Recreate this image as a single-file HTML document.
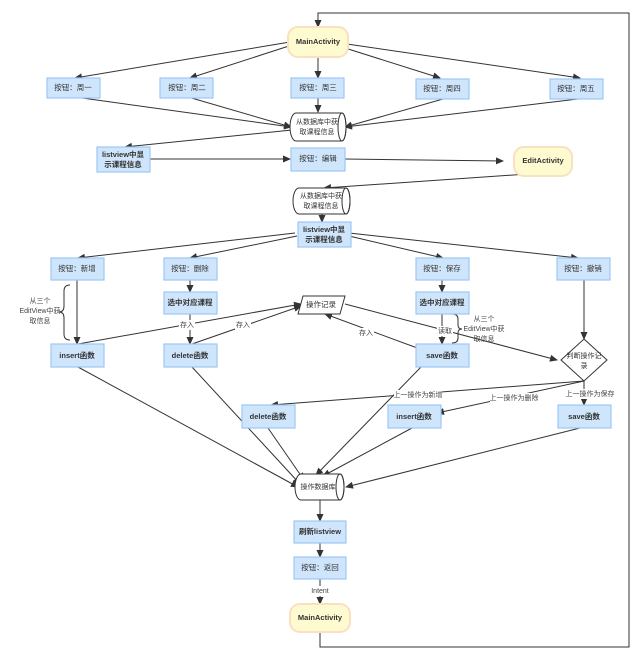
<!DOCTYPE html>
<html><head><meta charset="utf-8"><style>
html,body{margin:0;padding:0;background:#fff;}
svg{display:block;font-family:"Liberation Sans","Noto Sans CJK SC",sans-serif;}
.b{fill:#cfe5fc;stroke:#9cc8f5;stroke-width:1.2}
.y{fill:#fffbd0;stroke:#fbe0c0;stroke-width:2}
.t{font-size:7.5px;fill:#333;text-anchor:middle;dominant-baseline:middle}
.tb{font-size:7.5px;fill:#333;text-anchor:middle;dominant-baseline:middle;font-weight:bold}
.l{stroke:#333;stroke-width:1;fill:none;marker-end:url(#a)}
.n{stroke:#333;stroke-width:1;fill:none}
.lab{font-size:7px;fill:#444;text-anchor:middle;dominant-baseline:middle}
.lb{fill:#fff}
</style></head><body>
<svg width="642" height="660" viewBox="0 0 642 660">
<defs><marker id="a" markerWidth="8" markerHeight="8" refX="7" refY="4" orient="auto" markerUnits="userSpaceOnUse"><path d="M0,0.5 L8,4 L0,7.5 Z" fill="#333"/></marker></defs>

<!-- loop -->
<path class="n" d="M320,632 L320,647 L629,647 L629,13 L318,13 L318,20"/>
<path class="l" d="M318,18 L318,27"/>

<!-- Main -> weekdays -->
<path class="l" d="M290,42 L75,78"/>
<path class="l" d="M292,45 L190,78"/>
<path class="l" d="M318,57 L318,78"/>
<path class="l" d="M345,48 L440,78"/>
<path class="l" d="M347,44 L580,78"/>
<!-- weekdays -> cyl1 -->
<path class="l" d="M75,97 L291,127"/>
<path class="l" d="M188,97 L291,127"/>
<path class="l" d="M318,97 L318,112"/>
<path class="l" d="M443,99 L345,127"/>
<path class="l" d="M578,99 L345,127"/>
<path class="l" d="M292,130 L125,147"/>
<path class="l" d="M150,159 L290,159"/>
<path class="l" d="M345,159 L503,161"/>
<path class="l" d="M542,173 L324,188"/>
<path class="l" d="M322,214 L322,222"/>
<!-- listview2 -> buttons -->
<path class="l" d="M295,233 L78,258"/>
<path class="l" d="M297,236 L190,258"/>
<path class="l" d="M349,236 L443,258"/>
<path class="l" d="M349,233 L578,258"/>
<!-- column flows -->
<path class="l" d="M77,280 L77,344"/>
<path class="l" d="M190,280 L190,292"/>
<path class="l" d="M190,314 L190,344"/>
<path class="l" d="M442,280 L442,292"/>
<path class="l" d="M442,314 L442,344"/>
<path class="l" d="M584,280 L584,339"/>
<!-- to 操作记录 -->
<path class="l" d="M78,344 L301,304"/>
<path class="l" d="M192,344 L301,306"/>
<path class="l" d="M420,349 L325,314"/>
<path class="l" d="M345,304 L557,360"/>
<!-- diamond outputs -->
<path class="l" d="M584,381 L271,405"/>
<path class="l" d="M584,381 L437,413"/>
<path class="l" d="M584,381 L584,405"/>
<!-- to db -->
<path class="l" d="M78,367 L298,487"/>
<path class="l" d="M192,367 L300,484"/>
<path class="l" d="M268,428 L304,480"/>
<path class="l" d="M421,367 L316,475"/>
<path class="l" d="M412,428 L323,476"/>
<path class="l" d="M580,428 L346,487"/>
<path class="l" d="M320,500 L320,521"/>
<path class="l" d="M320,543 L320,557"/>
<path class="l" d="M320,579 L320,604"/>

<!-- braces -->
<path class="n" d="M70,285 Q64,285 64,291 L64,306 Q64,312 59,312 Q64,312 64,318 L64,334 Q64,340 70,340"/>
<path class="n" d="M452,314 Q458,314 458,319 L458,325 Q458,329 462,329 Q458,329 458,333 L458,338 Q458,343 452,343"/>

<!-- labels -->
<text class="lab" x="40" y="301">从三个</text>
<text class="lab" x="40" y="311">EditView中获</text>
<text class="lab" x="40" y="321">取信息</text>
<text class="lab" x="484" y="319">从三个</text>
<text class="lab" x="484" y="329">EditView中获</text>
<text class="lab" x="484" y="339">取信息</text>
<rect class="lb" x="179" y="320" width="16" height="10"/><text class="lab" x="187" y="325">存入</text>
<rect class="lb" x="235" y="320" width="16" height="10"/><text class="lab" x="243" y="325">存入</text>
<rect class="lb" x="358" y="328" width="16" height="10"/><text class="lab" x="366" y="333">存入</text>
<rect class="lb" x="437" y="326" width="16" height="10"/><text class="lab" x="445" y="331">读取</text>
<rect class="lb" x="394" y="390" width="48" height="10"/><text class="lab" x="418" y="395">上一操作为新增</text>
<rect class="lb" x="490" y="393" width="48" height="10"/><text class="lab" x="514" y="398">上一操作为删除</text>
<rect class="lb" x="566" y="389" width="48" height="10"/><text class="lab" x="590" y="394">上一操作为保存</text>
<rect class="lb" x="309" y="586" width="22" height="10"/><text class="lab" x="320" y="591">Intent</text>

<!-- nodes -->
<rect class="y" x="288" y="27" width="60" height="30" rx="10"/><text class="tb" x="318" y="42">MainActivity</text>
<rect class="b" x="47" y="78" width="53" height="20"/><text class="t" x="73" y="88">按钮：周一</text>
<rect class="b" x="160" y="78" width="53" height="20"/><text class="t" x="187" y="88">按钮：周二</text>
<rect class="b" x="291" y="78" width="53" height="20"/><text class="t" x="318" y="88">按钮：周三</text>
<rect class="b" x="416" y="79" width="53" height="20"/><text class="t" x="442" y="89">按钮：周四</text>
<rect class="b" x="550" y="79" width="53" height="20"/><text class="t" x="576" y="89">按钮：周五</text>

<path d="M296,113 L342,113 A4,14 0 0 1 342,141 L296,141 A6,14 0 0 1 296,113 Z" fill="#fff" stroke="#333"/>
<ellipse cx="342" cy="127" rx="4" ry="14" fill="none" stroke="#333"/>
<text class="t" x="317" y="122" style="font-size:7px">从数据库中获</text><text class="t" x="317" y="132" style="font-size:7px">取课程信息</text>

<rect class="b" x="97" y="147" width="53" height="25"/><text class="tb" x="123" y="155">listview中显</text><text class="tb" x="123" y="165">示课程信息</text>
<rect class="b" x="291" y="148" width="54" height="23"/><text class="t" x="318" y="159">按钮：编辑</text>
<rect class="y" x="514" y="147" width="58" height="29" rx="10"/><text class="tb" x="543" y="161">EditActivity</text>

<path d="M299,188 L346,188 A4,13 0 0 1 346,214 L299,214 A6,13 0 0 1 299,188 Z" fill="#fff" stroke="#333"/>
<ellipse cx="346" cy="201" rx="4" ry="13" fill="none" stroke="#333"/>
<text class="t" x="321" y="196" style="font-size:7px">从数据库中获</text><text class="t" x="321" y="206" style="font-size:7px">取课程信息</text>

<rect class="b" x="298" y="222" width="53" height="25"/><text class="tb" x="324" y="230">listview中显</text><text class="tb" x="324" y="240">示课程信息</text>

<rect class="b" x="51" y="258" width="53" height="22"/><text class="t" x="77" y="269">按钮：新增</text>
<rect class="b" x="164" y="258" width="53" height="22"/><text class="t" x="190" y="269">按钮：删除</text>
<rect class="b" x="416" y="258" width="53" height="22"/><text class="t" x="442" y="269">按钮：保存</text>
<rect class="b" x="557" y="258" width="53" height="22"/><text class="t" x="583" y="269">按钮：撤销</text>

<rect class="b" x="164" y="292" width="53" height="22"/><text class="tb" x="190" y="303">选中对应课程</text>
<rect class="b" x="416" y="292" width="53" height="22"/><text class="tb" x="442" y="303">选中对应课程</text>

<path d="M303,296 L345,296 L340,314 L298,314 Z" fill="#fff" stroke="#333"/><text class="t" x="321" y="305">操作记录</text>

<rect class="b" x="51" y="344" width="53" height="23"/><text class="tb" x="77" y="356">insert函数</text>
<rect class="b" x="164" y="344" width="53" height="23"/><text class="tb" x="190" y="356">delete函数</text>
<rect class="b" x="416" y="344" width="53" height="23"/><text class="tb" x="442" y="356">save函数</text>

<path d="M584,339 L607,360 L584,381 L561,360 Z" fill="#fff" stroke="#333"/>
<text class="t" x="584" y="356" style="font-size:7px">判断操作记</text><text class="t" x="584" y="366" style="font-size:7px">录</text>

<rect class="b" x="242" y="405" width="53" height="23"/><text class="tb" x="268" y="417">delete函数</text>
<rect class="b" x="388" y="405" width="53" height="23"/><text class="tb" x="414" y="417">insert函数</text>
<rect class="b" x="558" y="405" width="53" height="23"/><text class="tb" x="584" y="417">save函数</text>

<path d="M301,474 L340,474 A4,13 0 0 1 340,500 L301,500 A6,13 0 0 1 301,474 Z" fill="#fff" stroke="#333"/>
<ellipse cx="340" cy="487" rx="4" ry="13" fill="none" stroke="#333"/>
<text class="t" x="318" y="487" style="font-size:7px">操作数据库</text>

<rect class="b" x="294" y="521" width="52" height="22"/><text class="tb" x="320" y="532">刷新listview</text>
<rect class="b" x="294" y="557" width="52" height="22"/><text class="t" x="320" y="568">按钮：返回</text>
<rect class="y" x="290" y="604" width="60" height="28" rx="10"/><text class="tb" x="320" y="618">MainActivity</text>
</svg>
</body></html>
